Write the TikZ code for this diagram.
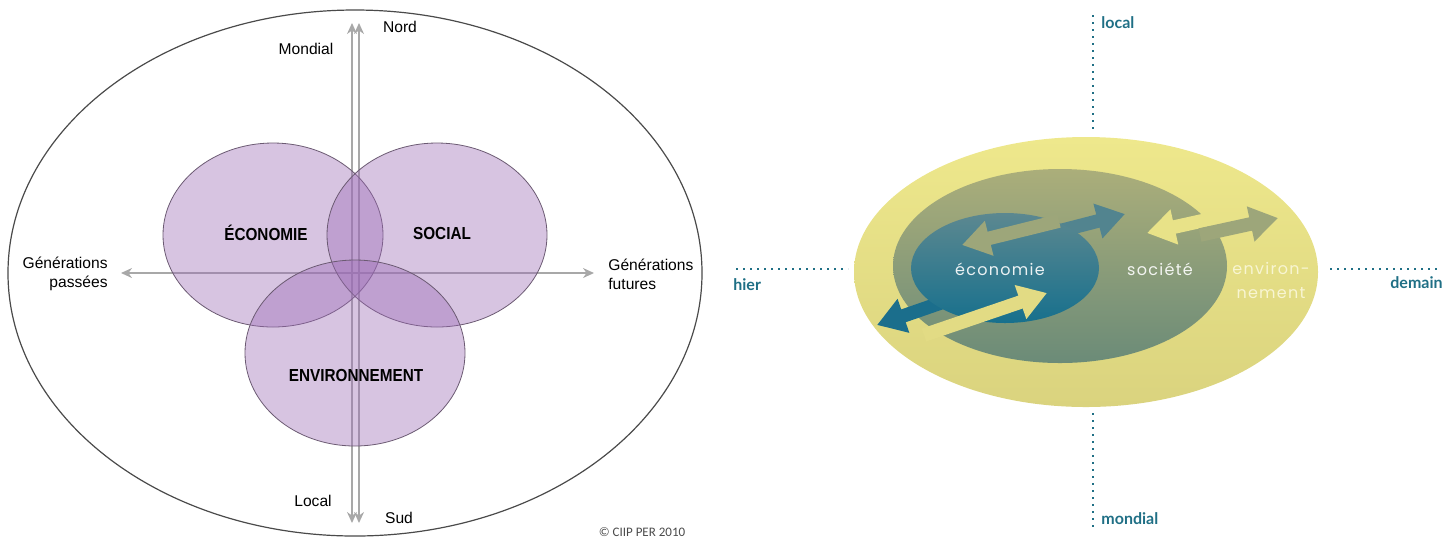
\documentclass[tikz,border=0pt]{standalone}
\usepackage{fontspec}
\setmainfont{Liberation Sans}
\newfontfamily\condfont[FakeStretch=0.88]{Liberation Sans}
\newfontfamily\geofont[LetterSpace=8]{Poppins}
\newfontfamily\labfont{Lato}
\newfontfamily\copyfont{Carlito}
\usetikzlibrary{arrows.meta,positioning}

\definecolor{axisgray}{HTML}{A8A8A8}
\definecolor{outline}{HTML}{4A4A4A}
\definecolor{vennfill}{HTML}{9B6BB5}
\definecolor{vennline}{HTML}{6B5A72}
\definecolor{tealtxt}{HTML}{1F6F85}
\definecolor{yelTop}{HTML}{EEE88C}
\definecolor{yelBot}{HTML}{DAD37E}
\definecolor{socTop}{HTML}{ABAE7A}
\definecolor{socBot}{HTML}{6B8B78}
\definecolor{ecoTop}{HTML}{5C8890}
\definecolor{ecoBot}{HTML}{17708D}
\definecolor{oliveArr}{HTML}{9DA67A}
\definecolor{blueArr}{HTML}{52848F}
\definecolor{deepArr}{HTML}{1B6E8C}
\definecolor{yelArr}{HTML}{E8E288}
\definecolor{yelArrLow}{HTML}{E2DB84}
\definecolor{envtext}{HTML}{F8F5D2}

\tikzstyle{gaxis} = [axisgray,line width=0.8pt,{Stealth[length=5.5pt,width=5pt]}-{Stealth[length=5.5pt,width=5pt]}]
\tikzstyle{venncircle} = [draw=vennline,line width=0.4pt,fill=vennfill,fill opacity=0.4]
\tikzstyle{axislabel} = [font=\fontsize{7.8}{9.5}\selectfont,inner sep=0pt]
\tikzstyle{vennlabel} = [font=\condfont\bfseries\fontsize{8.7}{10}\selectfont,inner sep=0pt]
\tikzstyle{flowarrow} = [line width=6.8pt,-{Triangle[length=14pt,width=17pt]}]
\tikzstyle{dotline} = [tealtxt,line width=0.9pt,dash pattern=on 0.9pt off 2.6pt]
\tikzstyle{teallabel} = [tealtxt,font=\labfont\bfseries\fontsize{8}{10}\selectfont,inner sep=0pt]
\tikzstyle{whitelabel} = [white,font=\geofont\fontsize{8}{12}\selectfont,inner sep=0pt]

\begin{document}
\begin{tikzpicture}[x=0.5pt,y=-0.5pt]
\useasboundingbox (0,0) rectangle (1456,538);

\draw[outline,line width=0.6pt] (355,273) ellipse [x radius=347, y radius=263];

\coordinate (mondialtip) at (352,23);
\coordinate (localtip) at (352,523);
\coordinate (nordtip) at (359,23);
\coordinate (sudtip) at (359,523);
\coordinate (pasttip) at (121,273);
\coordinate (futtip) at (594,273);
\draw[gaxis] (mondialtip) -- (localtip);
\draw[gaxis] (nordtip) -- (sudtip);
\draw[gaxis] (pasttip) -- (futtip);

\draw[venncircle] (273,235) ellipse [x radius=110, y radius=92];
\draw[venncircle] (437,235) ellipse [x radius=110, y radius=92];
\draw[venncircle] (355,353) ellipse [x radius=110, y radius=93];

\node[vennlabel] (economie) at (266,233) {ÉCONOMIE};
\node[vennlabel] (social) at (442,233) {SOCIAL};
\node[vennlabel] (environnement) at (356,375) {ENVIRONNEMENT};

\node[axislabel] (mondial) at (306,49) {Mondial};
\node[axislabel] (nord) at (400,27) {Nord};
\node[axislabel] (local) at (313,501) {Local};
\node[axislabel] (sud) at (399,518) {Sud};
\node[axislabel,align=right,anchor=east] (passees) at (108,274) {Générations\\passées};
\node[axislabel,align=left,anchor=west] (futures) at (608,274) {Générations\\futures};
\node[font=\copyfont\fontsize{6.5}{8}\selectfont,text=outline,inner sep=0pt] (copyright) at (642,532) {© CIIP PER 2010};

\coordinate (loctop) at (1093,15);
\coordinate (locbot) at (1093,130);
\coordinate (montop) at (1093,413);
\coordinate (monbot) at (1093,527);
\coordinate (hierA) at (736,269);
\coordinate (hierB) at (848,269);
\coordinate (demA) at (1330,269);
\coordinate (demB) at (1441,269);
\draw[dotline] (loctop) -- (locbot);
\draw[dotline] (montop) -- (monbot);
\draw[dotline] (hierA) -- (hierB);
\draw[dotline] (demA) -- (demB);

\shade[top color=yelTop,bottom color=yelBot] (1086,272) ellipse [x radius=232, y radius=135];
\shade[top color=socTop,bottom color=socBot] (1060,266) ellipse [x radius=167, y radius=97];

\coordinate (socOut) at (1040,236);
\coordinate (socIn) at (1125,214);
\coordinate (ecoLow) at (975,291);
\coordinate (ecoTip) at (877,325);
\draw[flowarrow,blueArr] (socOut) -- (socIn);
\draw[flowarrow,deepArr] (ecoLow) -- (ecoTip);

\shade[top color=ecoTop,bottom color=ecoBot] (1005,268) ellipse [x radius=94, y radius=55];

\coordinate (ecoOut) at (1059,221);
\coordinate (ecoIn) at (962,245);
\draw[flowarrow,oliveArr] (ecoOut) -- (ecoIn);

\coordinate (envOut) at (1215,218);
\coordinate (envIn) at (1147,233);
\coordinate (socRight) at (1200,235);
\coordinate (envTip) at (1278,218);
\draw[flowarrow,yelArr] (envOut) -- (envIn);
\draw[flowarrow,oliveArr] (socRight) -- (envTip);

\coordinate (envLow) at (924,335);
\coordinate (envLowTip) at (1047,293);
\draw[flowarrow,yelArrLow] (envLow) -- (envLowTip);

\node[whitelabel,text opacity=0.9] (ecolab) at (1000,269) {économie};
\node[whitelabel,text opacity=0.9] (soclab) at (1160,269) {société};
\node[whitelabel,text=envtext,align=center] (envlab) at (1271,280) {environ-\\nement};

\node[teallabel,anchor=west] (loclab) at (1101,23) {local};
\node[teallabel,anchor=west] (monlab) at (1101,519) {mondial};
\node[teallabel,anchor=west] (hierlab) at (733,285) {hier};
\node[teallabel,anchor=east] (demlab) at (1443,283) {demain};
\end{tikzpicture}
\end{document}
